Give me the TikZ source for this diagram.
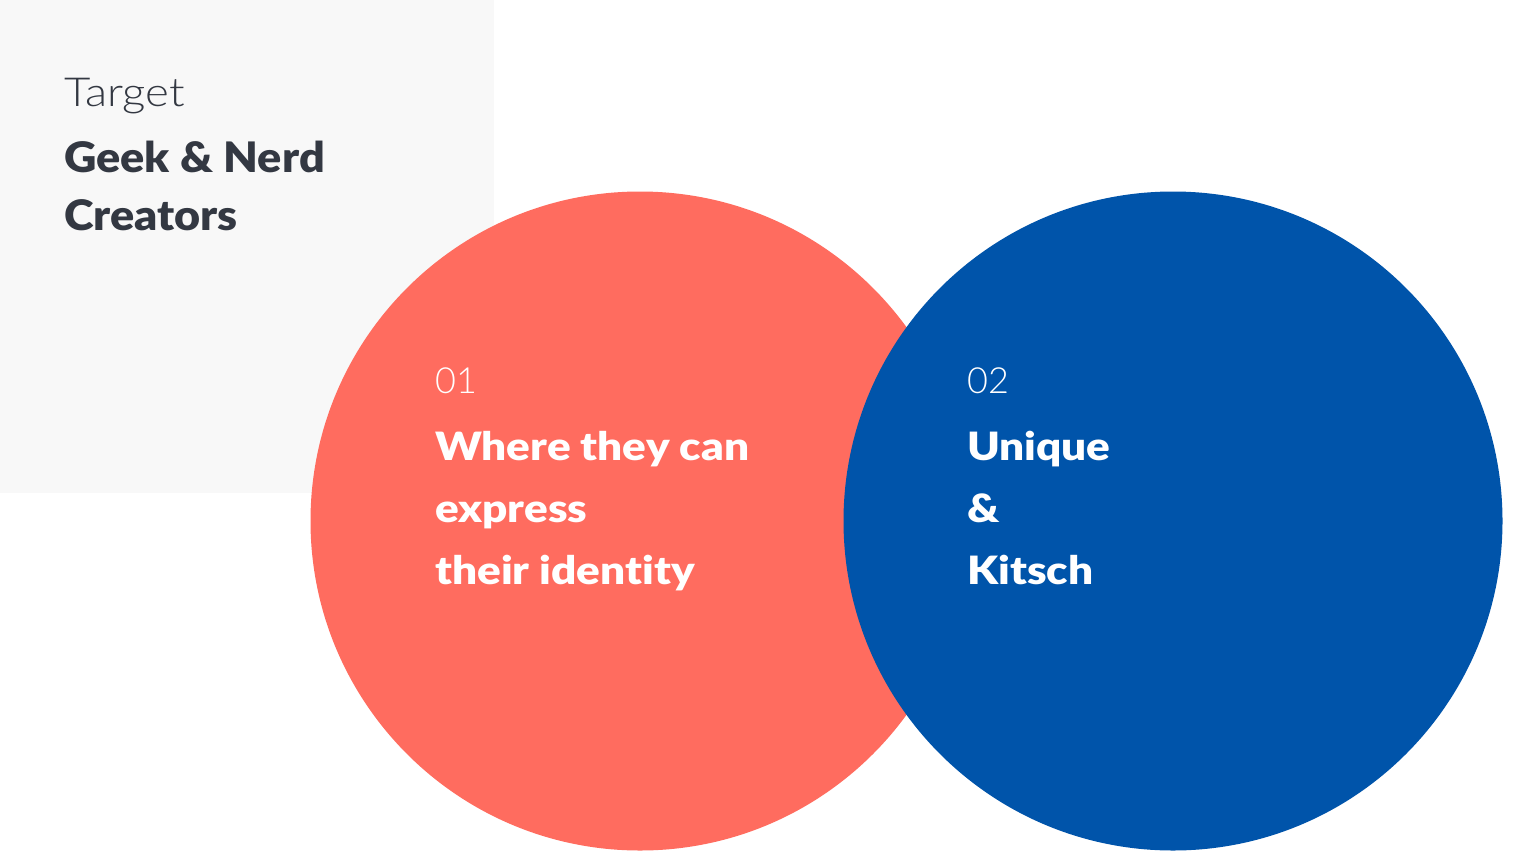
\documentclass[tikz,border=0pt]{standalone}
\usepackage{fontspec}
\setmainfont{Lato}
\newfontfamily\lightfont[Ligatures=NoCommon]{Lato Light}
\newfontfamily\widelight[Ligatures=NoCommon,FakeStretch=1.14]{Lato Light}
\newfontfamily\heavyfont[Ligatures=NoCommon,FakeStretch=1.07]{Lato Black}
\newfontfamily\claimfont[Ligatures=NoCommon,FakeStretch=1.13]{Lato Black}
\definecolor{panelgray}{HTML}{F8F8F8}
\definecolor{coral}{HTML}{FF6C5F}
\definecolor{royal}{HTML}{0054AA}
\definecolor{ink}{HTML}{333842}
\begin{document}
\begin{tikzpicture}[x=1pt,y=-1pt,
  label/.style={anchor=base west,inner sep=0pt},
  heading/.style={label,font=\fontsize{42}{42}\heavyfont,text=ink},
  lighthead/.style={label,font=\fontsize{40}{40}\widelight,text=ink},
  num/.style={label,font=\fontsize{36}{36}\lightfont,text=white},
  claim/.style={label,font=\fontsize{39}{39}\claimfont,text=white},
  disc/.style={circle,minimum size=659pt,inner sep=0pt,draw=none}]
\useasboundingbox (0,0) rectangle (1520,860);
\fill[white] (0,0) rectangle (1520,860);
% side panel
\node[fill=panelgray,anchor=north west,minimum width=494pt,minimum height=493pt,inner sep=0pt] (panel) at (0,0) {};
% two overlapping discs
\node[disc,fill=coral] (left) at (640,521) {};
\node[disc,fill=royal] (right) at (1173,521) {};
% panel text
\node[lighthead] (target) at (64,106) {Target};
\node[heading] (geek) at (64,172) {Geek \& Nerd};
\node[heading] (creators) at (64,230) {Creators};
% first disc text
\node[num] (n1) at (435,393) {01};
\node[claim] (l1a) at (435,460) {Where they can};
\node[claim] (l1b) at (435,522) {express};
\node[claim] (l1c) at (435,584) {their identity};
% second disc text
\node[num] (n2) at (967,393) {02};
\node[claim] (l2a) at (967,460) {Unique};
\node[claim] (l2b) at (967,522) {\&};
\node[claim] (l2c) at (967,584) {Kitsch};
\end{tikzpicture}
\end{document}
